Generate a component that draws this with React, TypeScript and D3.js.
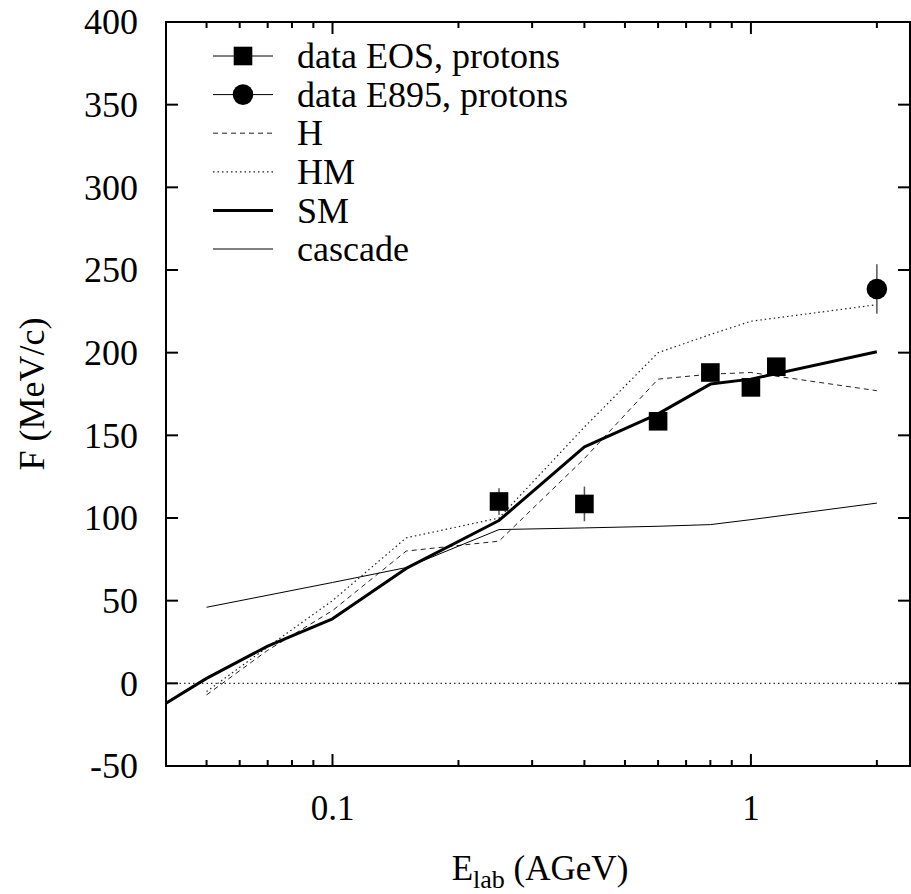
import * as d3 from "d3";

// measured points
const eosE = [0.25, 0.4, 0.6, 0.8, 1.0, 1.15];
const eosF = [110, 108.5, 158.5, 188, 179, 191.5];
const eosErr = [8, 10.5, 4, 4, 3, 3];

const e895E = [2.0];
const e895F = [238.5];
const e895Err = [15];

// model curves
const hE = [0.05, 0.07, 0.1, 0.15, 0.25, 0.4, 0.6, 0.8, 1.0, 2.0];
const hF = [-7, 20, 44, 80, 86, 136, 184, 187, 188, 177];

const hmE = [0.05, 0.07, 0.1, 0.15, 0.25, 0.4, 0.6, 0.8, 1.0, 2.0];
const hmF = [-5, 22, 50, 88, 100, 155, 200, 211, 219, 229];

const smE = [0.04, 0.05, 0.07, 0.1, 0.15, 0.25, 0.4, 0.6, 0.8, 1.0, 2.0];
const smF = [-12, 3, 22.5, 39, 69.5, 98.5, 143, 163, 181, 184, 200.5];

const cascE = [0.05, 0.1, 0.15, 0.25, 0.4, 0.6, 0.8, 1.0, 2.0];
const cascF = [46, 61, 70, 93, 94, 95, 96, 99, 109];

const yTicks = [-50, 0, 50, 100, 150, 200, 250, 300, 350, 400];
const xMajor = [0.1, 1];
const xMinor = [0.05, 0.06, 0.07, 0.08, 0.09, 0.2, 0.3, 0.4, 0.5, 0.6, 0.7, 0.8, 0.9, 2];

const legendItems = ["data EOS, protons", "data E895, protons", "H", "HM", "SM", "cascade"];

const W = 911;
const H = 894;
const left = 166;
const right = 910;
const top = 22;
const bottom = 766;
const font =
  '"Liberation Serif", "Tinos", "Times New Roman", Times, "Nimbus Roman", "Nimbus Roman No9 L", "FreeSerif", "DejaVu Serif", serif';
const fs = 36;

export default function App() {
  const x = d3.scaleLog().domain([0.04, 2.4]).range([left, right]);
  const y = d3.scaleLinear().domain([-50, 400]).range([bottom, top]);

  const line = (es: number[], vals: number[]) =>
    d3.line<number>()
      .x((_, i) => x(es[i]))
      .y((d) => y(d))(vals) || "";

  const styles: Record<string, { w: number; dash?: string; color: string }> = {
    H: { w: 1, dash: "5,4", color: "#222" },
    HM: { w: 1.2, dash: "1.5,3", color: "#222" },
    SM: { w: 3, color: "#000" },
    cascade: { w: 1, color: "#000" },
  };

  const legX1 = 213;
  const legX2 = 273;
  const legTextX = 297;
  const legY0 = 56;
  const legDy = 38.6;

  return (
    <svg
      width={W}
      height={H}
      style={{ display: "block", position: "absolute", left: 0, top: 0, fontFamily: font }}
    >
      <rect width={W} height={H} fill="#fff" />
      <defs>
        <clipPath id="plot">
          <rect x={left} y={top} width={right - left} height={bottom - top} />
        </clipPath>
      </defs>

      {/* zero axis */}
      <line x1={left} x2={right} y1={y(0)} y2={y(0)} stroke="#333" strokeWidth={1.2} strokeDasharray="1.5,3" />

      <g clipPath="url(#plot)" fill="none">
        <path d={line(hE, hF)} stroke={styles.H.color} strokeWidth={styles.H.w} strokeDasharray={styles.H.dash} />
        <path d={line(hmE, hmF)} stroke={styles.HM.color} strokeWidth={styles.HM.w} strokeDasharray={styles.HM.dash} />
        <path d={line(cascE, cascF)} stroke="#000" strokeWidth={1} />
        <path d={line(smE, smF)} stroke="#000" strokeWidth={3} strokeLinejoin="round" />
      </g>

      {/* data points */}
      {eosE.map((e, i) => (
        <g key={"eos" + i}>
          <line x1={x(e)} x2={x(e)} y1={y(eosF[i] - eosErr[i])} y2={y(eosF[i] + eosErr[i])} stroke="#555" strokeWidth={1.5} />
          <rect x={x(e) - 9.3} y={y(eosF[i]) - 9.3} width={18.6} height={18.6} fill="#000" />
        </g>
      ))}
      {e895E.map((e, i) => (
        <g key={"e895" + i}>
          <line x1={x(e)} x2={x(e)} y1={y(e895F[i] - e895Err[i])} y2={y(e895F[i] + e895Err[i])} stroke="#555" strokeWidth={1.5} />
          <circle cx={x(e)} cy={y(e895F[i])} r={10.3} fill="#000" />
        </g>
      ))}

      {/* border and ticks */}
      <rect x={left} y={top} width={right - left} height={bottom - top} fill="none" stroke="#000" strokeWidth={2} />
      {yTicks.map((t) => (
        <g key={"yt" + t}>
          <line x1={left} x2={left + 12} y1={y(t)} y2={y(t)} stroke="#000" strokeWidth={2} />
          <line x1={right - 12} x2={right} y1={y(t)} y2={y(t)} stroke="#000" strokeWidth={2} />
          <text x={138} y={y(t)} dy="0.34em" textAnchor="end" fontSize={fs}>
            {t}
          </text>
        </g>
      ))}
      {xMajor.map((t) => (
        <g key={"xM" + t}>
          <line x1={x(t)} x2={x(t)} y1={bottom} y2={bottom - 12} stroke="#000" strokeWidth={2} />
          <line x1={x(t)} x2={x(t)} y1={top} y2={top + 12} stroke="#000" strokeWidth={2} />
          <text x={x(t)} y={820} textAnchor="middle" fontSize={fs - 1}>
            {t}
          </text>
        </g>
      ))}
      {xMinor.map((t) => (
        <g key={"xm" + t}>
          <line x1={x(t)} x2={x(t)} y1={bottom} y2={bottom - 6} stroke="#000" strokeWidth={2} />
          <line x1={x(t)} x2={x(t)} y1={top} y2={top + 6} stroke="#000" strokeWidth={2} />
        </g>
      ))}

      {/* axis titles */}
      <text x={540} y={880} textAnchor="middle" fontSize={fs - 1}>
        E<tspan dy={8} fontSize={26}>lab</tspan>
        <tspan dy={-8}> (AGeV)</tspan>
      </text>
      <text
        transform={`translate(44,${(top + bottom) / 2}) rotate(-90)`}
        textAnchor="middle"
        fontSize={fs}
      >
        F (MeV/c)
      </text>

      {/* legend */}
      {legendItems.map((name, i) => {
        const ly = legY0 + i * legDy;
        const st = styles[name];
        return (
          <g key={"leg" + name}>
            {i < 2 ? (
              <>
                <line x1={legX1} x2={legX2} y1={ly} y2={ly} stroke="#000" strokeWidth={1} />
                {i === 0 ? (
                  <rect x={(legX1 + legX2) / 2 - 9.3} y={ly - 9.3} width={18.6} height={18.6} fill="#000" />
                ) : (
                  <circle cx={(legX1 + legX2) / 2} cy={ly} r={10.3} fill="#000" />
                )}
              </>
            ) : (
              <line x1={legX1} x2={legX2} y1={ly} y2={ly} stroke={st.color} strokeWidth={st.w} strokeDasharray={st.dash} />
            )}
            <text x={legTextX} y={ly} dy="0.34em" fontSize={fs}>
              {name}
            </text>
          </g>
        );
      })}
    </svg>
  );
}
